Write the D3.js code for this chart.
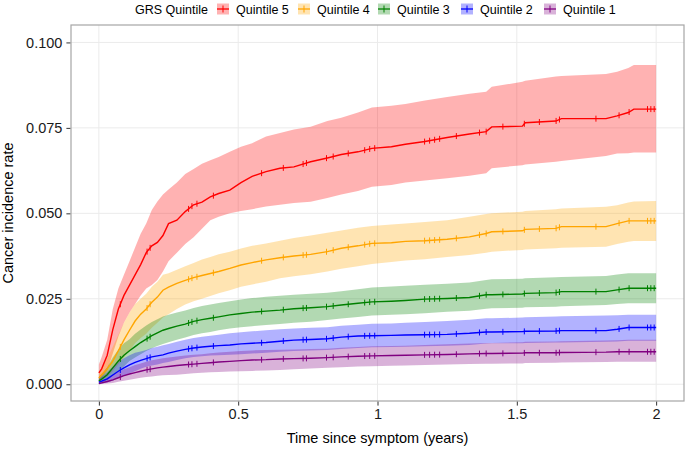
<!DOCTYPE html>
<html>
<head>
<meta charset="utf-8">
<script src="https://cdn.jsdelivr.net/npm/d3@7"></script>
<style>
  body { margin: 0; background: #fff; }
  svg text { font-family: "Liberation Sans", Arial, Helvetica, sans-serif; }
</style>
</head>
<body>
<script>
'use strict';

// shared time grid (years) for all curves
const times = [0, 0.01, 0.03, 0.05, 0.07, 0.09, 0.11, 0.13, 0.15, 0.17, 0.19, 0.21, 0.23, 0.25, 0.28, 0.31, 0.34, 0.37, 0.40, 0.43, 0.47, 0.51, 0.55, 0.60, 0.65, 0.70, 0.76, 0.82, 0.87, 0.93, 0.98, 1.05, 1.10, 1.17, 1.25, 1.33, 1.39, 1.41, 1.52, 1.53, 1.64, 1.66, 1.82, 1.86, 1.90, 1.92, 2.0];

// Quintile 5
const q5Est = [0.0033, 0.0045, 0.0085, 0.016, 0.022, 0.026, 0.029, 0.032, 0.035, 0.0385, 0.0405, 0.0415, 0.0435, 0.047, 0.048, 0.0505, 0.0525, 0.0533, 0.0548, 0.0558, 0.0568, 0.059, 0.0608, 0.0622, 0.0632, 0.0636, 0.0651, 0.0662, 0.0672, 0.068, 0.069, 0.0695, 0.0702, 0.071, 0.0722, 0.0732, 0.0739, 0.0753, 0.0755, 0.0765, 0.0770, 0.0777, 0.0777, 0.0785, 0.0795, 0.0805, 0.0805];
const q5Hi = [0.0058, 0.008, 0.013, 0.022, 0.028, 0.032, 0.036, 0.040, 0.044, 0.047, 0.051, 0.0535, 0.0555, 0.057, 0.059, 0.0615, 0.063, 0.0645, 0.0655, 0.0665, 0.068, 0.0695, 0.0705, 0.0725, 0.0735, 0.0745, 0.0753, 0.077, 0.078, 0.0795, 0.081, 0.0815, 0.082, 0.083, 0.084, 0.085, 0.0856, 0.087, 0.0885, 0.0888, 0.090, 0.0902, 0.0908, 0.0914, 0.0925, 0.0934, 0.0934];
const q5Lo = [0.0012, 0.0018, 0.004, 0.009, 0.014, 0.018, 0.021, 0.0235, 0.026, 0.028, 0.029, 0.0305, 0.033, 0.036, 0.0385, 0.041, 0.043, 0.0455, 0.048, 0.049, 0.050, 0.0507, 0.0512, 0.052, 0.0525, 0.053, 0.0534, 0.0545, 0.0555, 0.0565, 0.0578, 0.0583, 0.059, 0.0596, 0.0603, 0.061, 0.0617, 0.0632, 0.0641, 0.0643, 0.0651, 0.0653, 0.0668, 0.0675, 0.0676, 0.0678, 0.0678];

// Quintile 4
const q4Est = [0.0018, 0.0028, 0.0045, 0.0068, 0.0098, 0.013, 0.0158, 0.0185, 0.0205, 0.022, 0.024, 0.0255, 0.0275, 0.0284, 0.0295, 0.0304, 0.0312, 0.0318, 0.0324, 0.033, 0.0339, 0.0349, 0.0356, 0.0364, 0.037, 0.0375, 0.038, 0.0388, 0.0398, 0.0405, 0.0412, 0.0414, 0.0418, 0.042, 0.0424, 0.0431, 0.0441, 0.0446, 0.0449, 0.0453, 0.0456, 0.0461, 0.0461, 0.047, 0.0478, 0.0478, 0.0478];
const q4Hi = [0.0032, 0.0045, 0.0075, 0.011, 0.0145, 0.018, 0.021, 0.0235, 0.025, 0.0265, 0.0285, 0.030, 0.032, 0.0325, 0.0335, 0.0345, 0.0355, 0.0365, 0.0372, 0.038, 0.0388, 0.0397, 0.0405, 0.0412, 0.042, 0.0428, 0.0435, 0.0443, 0.045, 0.0458, 0.0463, 0.0467, 0.047, 0.0475, 0.048, 0.049, 0.0498, 0.050, 0.0505, 0.0507, 0.0512, 0.0514, 0.0519, 0.0524, 0.0532, 0.0535, 0.0536];
const q4Lo = [0.0008, 0.0012, 0.0022, 0.0038, 0.0058, 0.0078, 0.0098, 0.012, 0.0135, 0.0148, 0.0165, 0.018, 0.0195, 0.0205, 0.022, 0.0233, 0.0243, 0.025, 0.0258, 0.0266, 0.0275, 0.0285, 0.0292, 0.0300, 0.031, 0.0316, 0.0322, 0.033, 0.0338, 0.0345, 0.0352, 0.0358, 0.0362, 0.0366, 0.0372, 0.0378, 0.0385, 0.0388, 0.0393, 0.0394, 0.0398, 0.0399, 0.0402, 0.041, 0.0417, 0.0419, 0.0419];

// Quintile 3
const q3Est = [0.0010, 0.0015, 0.0028, 0.0048, 0.0068, 0.0085, 0.0098, 0.011, 0.0122, 0.0132, 0.0142, 0.0150, 0.0158, 0.0163, 0.0170, 0.0176, 0.0184, 0.0189, 0.0193, 0.0197, 0.0203, 0.0207, 0.0211, 0.0214, 0.0217, 0.0221, 0.0224, 0.0227, 0.0232, 0.0237, 0.0241, 0.0243, 0.0245, 0.0249, 0.0251, 0.0254, 0.0262, 0.0262, 0.0264, 0.0266, 0.0268, 0.0271, 0.0271, 0.0276, 0.0281, 0.0281, 0.0281];
const q3Hi = [0.0022, 0.003, 0.005, 0.0078, 0.0102, 0.012, 0.0132, 0.0148, 0.016, 0.0172, 0.0182, 0.0190, 0.0198, 0.0203, 0.0210, 0.0216, 0.0223, 0.0229, 0.0233, 0.0238, 0.0243, 0.0248, 0.0252, 0.0256, 0.0259, 0.0262, 0.0265, 0.0268, 0.0272, 0.0278, 0.0283, 0.0286, 0.0288, 0.0291, 0.0294, 0.0298, 0.0305, 0.0307, 0.0309, 0.031, 0.0313, 0.0314, 0.0317, 0.0321, 0.0325, 0.0325, 0.0325];
const q3Lo = [0.0003, 0.0005, 0.0012, 0.0025, 0.0038, 0.0052, 0.0068, 0.0078, 0.0088, 0.0097, 0.0105, 0.0112, 0.0118, 0.0123, 0.013, 0.0137, 0.0144, 0.0149, 0.0153, 0.0158, 0.0163, 0.0167, 0.017, 0.0173, 0.0176, 0.018, 0.0183, 0.0188, 0.0192, 0.0197, 0.0201, 0.0203, 0.0205, 0.0208, 0.0212, 0.0215, 0.0221, 0.0222, 0.0224, 0.0225, 0.0227, 0.0228, 0.0232, 0.0235, 0.0237, 0.0237, 0.0237];

// Quintile 2
const q2Est = [0.0006, 0.0009, 0.0016, 0.0027, 0.0038, 0.0048, 0.0057, 0.0064, 0.007, 0.0075, 0.008, 0.0083, 0.0086, 0.0091, 0.0097, 0.0102, 0.0106, 0.0109, 0.0111, 0.0113, 0.0115, 0.0118, 0.012, 0.0122, 0.0126, 0.0129, 0.0131, 0.0133, 0.0138, 0.0141, 0.0142, 0.0143, 0.0144, 0.0145, 0.0146, 0.0149, 0.0153, 0.0153, 0.0154, 0.0155, 0.0156, 0.0157, 0.0157, 0.0161, 0.0166, 0.0166, 0.0166];
const q2Hi = [0.0016, 0.0022, 0.0035, 0.0052, 0.0065, 0.0076, 0.0085, 0.0092, 0.0096, 0.010, 0.0106, 0.011, 0.0114, 0.0118, 0.0124, 0.013, 0.0135, 0.0139, 0.0142, 0.0145, 0.0149, 0.0152, 0.0155, 0.0158, 0.0161, 0.0163, 0.0165, 0.0167, 0.0171, 0.0174, 0.0177, 0.0178, 0.018, 0.0182, 0.0185, 0.0189, 0.0193, 0.0193, 0.0195, 0.0196, 0.0198, 0.0199, 0.0201, 0.0202, 0.0203, 0.0203, 0.0203];
const q2Lo = [0.0001, 0.0002, 0.0005, 0.0010, 0.0018, 0.0025, 0.0032, 0.0038, 0.0045, 0.0051, 0.0055, 0.0058, 0.0062, 0.0065, 0.0071, 0.0076, 0.008, 0.0082, 0.0084, 0.0085, 0.0086, 0.0088, 0.009, 0.0092, 0.0095, 0.0097, 0.0099, 0.0100, 0.0103, 0.0106, 0.0108, 0.0109, 0.0110, 0.0111, 0.0113, 0.0115, 0.0119, 0.012, 0.012, 0.0121, 0.0122, 0.0122, 0.0124, 0.0125, 0.0127, 0.0127, 0.0127];

// Quintile 1
const q1Est = [0.0002, 0.0004, 0.0008, 0.0013, 0.0019, 0.0025, 0.003, 0.0034, 0.0038, 0.0042, 0.0045, 0.0048, 0.005, 0.0052, 0.0055, 0.0057, 0.0059, 0.0061, 0.0063, 0.0065, 0.0067, 0.0069, 0.0071, 0.0072, 0.0074, 0.0075, 0.0076, 0.0078, 0.0080, 0.0082, 0.0083, 0.0084, 0.0085, 0.0086, 0.0087, 0.0089, 0.009, 0.009, 0.0091, 0.0092, 0.0092, 0.0093, 0.0094, 0.0095, 0.0095, 0.0095, 0.0095];
const q1Hi = [0.0006, 0.001, 0.0018, 0.0028, 0.0036, 0.0044, 0.005, 0.0056, 0.0061, 0.0066, 0.007, 0.0073, 0.0076, 0.0078, 0.0081, 0.0084, 0.0086, 0.0088, 0.0091, 0.0093, 0.0095, 0.0097, 0.0099, 0.0100, 0.0101, 0.0102, 0.0103, 0.0104, 0.0107, 0.0109, 0.0111, 0.0112, 0.0113, 0.0115, 0.0117, 0.0119, 0.0121, 0.0121, 0.0123, 0.0124, 0.0125, 0.0126, 0.0128, 0.0129, 0.013, 0.013, 0.013];
const q1Lo = [0.0, 0.0001, 0.0002, 0.0004, 0.0007, 0.001, 0.0013, 0.0016, 0.0019, 0.0021, 0.0023, 0.0025, 0.0026, 0.0027, 0.0028, 0.003, 0.0032, 0.0034, 0.0035, 0.0036, 0.0037, 0.0038, 0.0039, 0.004, 0.0042, 0.0044, 0.0046, 0.0048, 0.005, 0.0052, 0.0053, 0.0054, 0.0055, 0.0056, 0.0058, 0.0059, 0.006, 0.006, 0.0061, 0.0062, 0.0063, 0.0064, 0.0065, 0.0066, 0.0066, 0.0066, 0.0066];

// censoring times (shown as small "+" marks on each curve)
const censorTimes = [0.077, 0.173, 0.184, 0.322, 0.334, 0.352, 0.411, 0.584, 0.662, 0.733, 0.745, 0.817, 0.841, 0.895, 0.954, 0.972, 0.99, 1.169, 1.187, 1.205, 1.223, 1.283, 1.366, 1.39, 1.45, 1.527, 1.581, 1.641, 1.653, 1.784, 1.867, 1.903, 1.969, 1.981, 1.993];

const groupNames = ["Quintile 5", "Quintile 4", "Quintile 3", "Quintile 2", "Quintile 1"];
const groupColors = ["#ff0000", "#ffa500", "#008000", "#0000ff", "#800080"];
const xTicks = [0, 0.5, 1, 1.5, 2];
const xTickLabels = ["0", "0.5", "1", "1.5", "2"];
const yTicks = [0, 0.025, 0.05, 0.075, 0.1];
const yTickLabels = ["0.000", "0.025", "0.050", "0.075", "0.100"];

(function() {

  let width = 685;
  let height = 449;
  let panel = { left: 71, right: 684, top: 25, bottom: 401 };

  let series = [
    { est: q5Est, lo: q5Lo, hi: q5Hi },
    { est: q4Est, lo: q4Lo, hi: q4Hi },
    { est: q3Est, lo: q3Lo, hi: q3Hi },
    { est: q2Est, lo: q2Lo, hi: q2Hi },
    { est: q1Est, lo: q1Lo, hi: q1Hi }
  ];

  let svg = d3.select('body').append('svg')
    .attr('width', width)
    .attr('height', height);

  let xScale = d3.scaleLinear().domain([-0.1, 2.1]).range([panel.left, panel.right]);
  let yScale = d3.scaleLinear().domain([-0.0049, 0.1051]).range([panel.bottom, panel.top]);

  // grid lines
  svg.append('g').selectAll('line').data(xTicks).enter().append('line')
    .attr('x1', (d) => xScale(d)).attr('x2', (d) => xScale(d))
    .attr('y1', panel.top).attr('y2', panel.bottom)
    .attr('stroke', '#ebebeb').attr('stroke-width', 1);
  svg.append('g').selectAll('line').data(yTicks).enter().append('line')
    .attr('y1', (d) => yScale(d)).attr('y2', (d) => yScale(d))
    .attr('x1', panel.left).attr('x2', panel.right)
    .attr('stroke', '#ebebeb').attr('stroke-width', 1);

  // confidence bands
  let area = d3.area()
    .x((d, i) => xScale(times[i]))
    .y0((d) => yScale(d[0]))
    .y1((d) => yScale(d[1]));

  series.forEach(function(s, k) {
    let pts = s.lo.map((v, i) => [v, s.hi[i]]);
    svg.append('path')
      .attr('d', area(pts))
      .attr('fill', groupColors[k])
      .attr('fill-opacity', 0.3)
      .attr('stroke', 'none');
  });

  // estimate lines
  let line = d3.line()
    .x((d, i) => xScale(times[i]))
    .y((d) => yScale(d));

  // value of a series at time t (linear between grid points)
  function valueAt(est, t) {
    let i = d3.bisector((d) => d).right(times, t) - 1;
    if (i >= times.length - 1) return est[times.length - 1];
    let f = (t - times[i]) / (times[i + 1] - times[i]);
    return est[i] + f * (est[i + 1] - est[i]);
  }

  series.forEach(function(s, k) {
    svg.append('path')
      .attr('d', line(s.est))
      .attr('fill', 'none')
      .attr('stroke', groupColors[k])
      .attr('stroke-width', 1.4);

    // censor marks
    svg.append('g').selectAll('line').data(censorTimes).enter().append('line')
      .attr('x1', (t) => xScale(t)).attr('x2', (t) => xScale(t))
      .attr('y1', (t) => yScale(valueAt(s.est, t)) - 3)
      .attr('y2', (t) => yScale(valueAt(s.est, t)) + 3)
      .attr('stroke', groupColors[k])
      .attr('stroke-width', 1);
  });

  // panel border
  svg.append('rect')
    .attr('x', panel.left).attr('y', panel.top)
    .attr('width', panel.right - panel.left)
    .attr('height', panel.bottom - panel.top)
    .attr('fill', 'none')
    .attr('stroke', '#a6a6a6')
    .attr('stroke-width', 1.2);

  // x axis
  let xAxis = d3.axisBottom(xScale)
    .tickValues(xTicks)
    .tickFormat((d, i) => xTickLabels[i])
    .tickSize(4)
    .tickPadding(3);
  let gx = svg.append('g')
    .attr('transform', 'translate(0,' + (panel.bottom + 0.6) + ')')
    .call(xAxis);
  gx.select('.domain').remove();
  gx.selectAll('line').attr('stroke', '#333');
  gx.selectAll('text').attr('font-size', 14.5).attr('fill', '#1a1a1a')
    .style('font-family', '"Liberation Sans", Arial, sans-serif');

  // y axis
  let yAxis = d3.axisLeft(yScale)
    .tickValues(yTicks)
    .tickFormat((d, i) => yTickLabels[i])
    .tickSize(4)
    .tickPadding(4);
  let gy = svg.append('g')
    .attr('transform', 'translate(' + (panel.left - 0.6) + ',0)')
    .call(yAxis);
  gy.select('.domain').remove();
  gy.selectAll('line').attr('stroke', '#333');
  gy.selectAll('text').attr('font-size', 14.5).attr('fill', '#1a1a1a')
    .style('font-family', '"Liberation Sans", Arial, sans-serif');

  // axis titles
  svg.append('text')
    .attr('x', (panel.left + panel.right) / 2)
    .attr('y', 443)
    .attr('text-anchor', 'middle')
    .attr('font-size', 14.5)
    .attr('fill', '#000')
    .text('Time since symptom (years)');

  svg.append('text')
    .attr('transform', 'translate(13,' + ((panel.top + panel.bottom) / 2) + ') rotate(-90)')
    .attr('text-anchor', 'middle')
    .attr('font-size', 14.5)
    .attr('fill', '#000')
    .text('Cancer incidence rate');

  // legend
  let legendY = 9;
  svg.append('text')
    .attr('x', 135).attr('y', legendY + 4.5)
    .attr('font-size', 12.5)
    .text('GRS Quintile');

  let keyX = [217, 298, 378, 461, 544];
  groupNames.forEach(function(name, k) {
    let g = svg.append('g').attr('transform', 'translate(' + keyX[k] + ',' + legendY + ')');
    g.append('rect')
      .attr('x', 0).attr('y', -5.5)
      .attr('width', 12).attr('height', 11)
      .attr('fill', groupColors[k]).attr('fill-opacity', 0.3);
    g.append('line')
      .attr('x1', 0).attr('x2', 12).attr('y1', 0).attr('y2', 0)
      .attr('stroke', groupColors[k]).attr('stroke-width', 1.3);
    g.append('line')
      .attr('x1', 6).attr('x2', 6).attr('y1', -3.5).attr('y2', 3.5)
      .attr('stroke', groupColors[k]).attr('stroke-width', 1);
    g.append('text')
      .attr('x', 19).attr('y', 4.5)
      .attr('font-size', 12.5)
      .text(name);
  });

})();
</script>
</body>
</html>
